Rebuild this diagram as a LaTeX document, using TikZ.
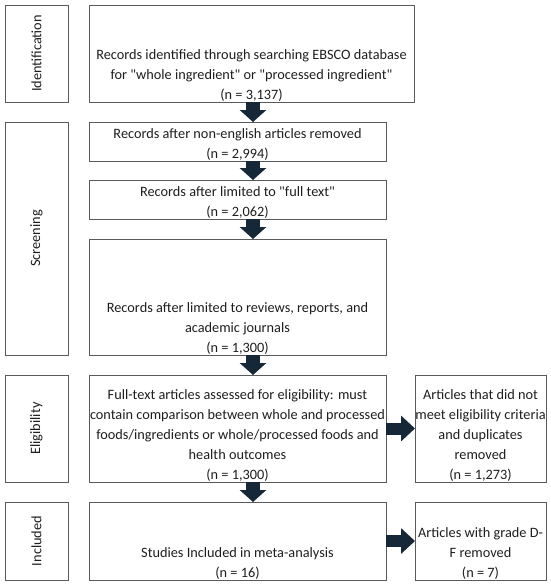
\documentclass[tikz,border=0pt]{standalone}
\usepackage{fontspec}
\setmainfont{Carlito}[Ligatures=TeXOff]
\usetikzlibrary{arrows.meta}
\definecolor{arrowcol}{RGB}{22,40,56}
\definecolor{boxcol}{RGB}{90,90,90}
\definecolor{txtcol}{RGB}{30,30,30}
\begin{document}
\begin{tikzpicture}[x=1pt,y=-1pt,
  box/.style={draw=boxcol, line width=1pt, inner sep=0pt, outer sep=0pt},
  txt/.style={text=txtcol, font=\fontsize{14.3}{20}\selectfont, align=center, inner sep=0pt, anchor=south},
  lbl/.style={text=txtcol, font=\fontsize{14.3}{20}\selectfont, rotate=90, inner sep=0pt},
  downarrow/.style={draw=arrowcol, line width=14pt, -{Triangle[width=26pt,length=12pt]}},
  rightarrow/.style={draw=arrowcol, line width=12pt, -{Triangle[width=25pt,length=14pt]}}]
\useasboundingbox (0,0) rectangle (550,584);
% left stage boxes
\node[box, minimum width=63pt, minimum height=97pt] (L1) at (36.5,53.5) {};
\node[box, minimum width=63pt, minimum height=233pt] (L2) at (36.5,238.5) {};
\node[box, minimum width=63pt, minimum height=107pt] (L3) at (36.5,428.5) {};
\node[box, minimum width=63pt, minimum height=78pt] (L4) at (36.5,541) {};
\node[lbl] (l1) at (L1.center) {Identification};
\node[lbl] (l2) at (L2.center) {Screening};
\node[lbl] (l3) at (L3.center) {Eligibility};
\node[lbl] (l4) at (L4.center) {Included};
% main boxes
\node[box, minimum width=325pt, minimum height=97pt] (B1) at (251.5,53.5) {};
\node[box, minimum width=297pt, minimum height=39pt] (B2) at (237.5,141.5) {};
\node[box, minimum width=297pt, minimum height=39pt] (B3) at (237.5,199.5) {};
\node[box, minimum width=297pt, minimum height=116pt] (B4) at (237.5,297) {};
\node[box, minimum width=297pt, minimum height=107pt] (B5) at (237.5,428.5) {};
\node[box, minimum width=297pt, minimum height=78pt] (B6) at (237.5,541) {};
% right boxes
\node[box, minimum width=131pt, minimum height=107pt] (R1) at (480.5,428.5) {};
\node[box, minimum width=131pt, minimum height=78pt] (R2) at (480.5,541) {};
% texts
\node[txt] (t1) at ([yshift=0.5pt]B1.south) {Records identified through searching EBSCO database\\for "whole ingredient" or "processed ingredient"\\(n = 3,137)};
\node[txt] (t2) at ([yshift=0.5pt]B2.south) {Records after non-english articles removed\\(n = 2,994)};
\node[txt] (t3) at ([yshift=0.5pt]B3.south) {Records after limited to "full text"\\(n = 2,062)};
\node[txt] (t4) at ([yshift=0.5pt]B4.south) {Records after limited to reviews, reports, and\\academic journals\\(n = 1,300)};
\node[txt] (t5) at ([yshift=0.5pt]B5.south) {Full-text articles assessed for eligibility: must\\contain comparison between whole and processed\\foods/ingredients or whole/processed foods and\\health outcomes\\(n = 1,300)};
\node[txt] (t6) at ([yshift=0.5pt]B6.south) {Studies Included in meta-analysis\\(n = 16)};
\node[txt] (t7) at ([yshift=0.5pt]R1.south) {Articles that did not\\meet eligibility criteria\\and duplicates\\removed\\(n = 1,273)};
\node[txt] (t8) at ([yshift=0.5pt]R2.south) {Articles with grade D-\\F removed\\(n = 7)};
% arrows
\coordinate (ax) at (253,0);
\draw[downarrow] (B1.south -| ax) -- (B2.north -| ax);
\draw[downarrow] (B2.south -| ax) -- (B3.north -| ax);
\draw[downarrow] (B3.south -| ax) -- (B4.north -| ax);
\draw[downarrow] (B4.south -| ax) -- (B5.north -| ax);
\draw[downarrow] (B5.south -| ax) -- (B6.north -| ax);
\draw[rightarrow] (B5.east) -- (R1.west);
\draw[rightarrow] (B6.east) -- (R2.west);
\end{tikzpicture}
\end{document}
